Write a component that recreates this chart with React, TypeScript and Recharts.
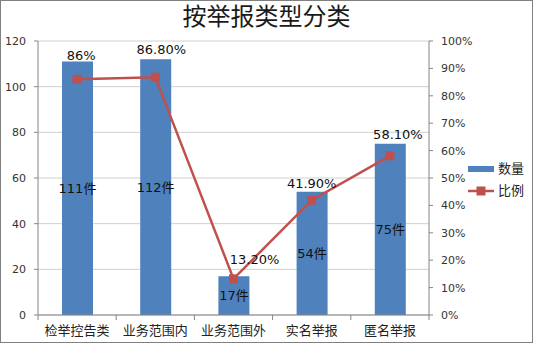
import React from "react";
import {
  Bar,
  CartesianGrid,
  ComposedChart,
  LabelList,
  Line,
  XAxis,
  YAxis,
} from "recharts";

const categories = ["检举控告类", "业务范围内", "业务范围外", "实名举报", "匿名举报"];
const counts = [111, 112, 17, 54, 75];
const ratios = [0.86, 0.868, 0.132, 0.419, 0.581];
const ratioLabels = ["86%", "86.80%", "13.20%", "41.90%", "58.10%"];
const countTicks = [0, 20, 40, 60, 80, 100, 120];
const ratioTicks = [0, 0.1, 0.2, 0.3, 0.4, 0.5, 0.6, 0.7, 0.8, 0.9, 1];

const data = categories.map((name, i) => ({
  name,
  count: counts[i],
  ratio: ratios[i],
  ratioLabel: ratioLabels[i],
}));

const W = 533;
const H = 343;
const LEFT_W = 38;
const RIGHT_W = 40;
const MARGIN = { top: 41, right: 64, bottom: 0, left: 0 };
const HALF_BAND = (W - LEFT_W - RIGHT_W - MARGIN.right) / categories.length / 2;

const BLUE = "#4F81BD";
const RED = "#C0504D";
const AXIS = "#868686";
const FONT = "'DejaVu Sans', 'Noto Sans CJK SC', sans-serif";

// hand-placed label nudges, like in the original sheet
const pctOffset: [number, number][] = [
  [4, -24],
  [6, -28],
  [21, -19],
  [0, -17],
  [8, -21],
];

function XTick({ x, y, payload, index }: any) {
  const last = index === categories.length - 1;
  return (
    <g>
      <line x1={x - HALF_BAND} x2={x - HALF_BAND} y1={y} y2={y + 5} stroke={AXIS} />
      {last && <line x1={x + HALF_BAND} x2={x + HALF_BAND} y1={y} y2={y + 5} stroke={AXIS} />}
      <text x={x} y={y + 15} dominantBaseline="central" textAnchor="middle" fontSize={13} fill="#222">
        {payload.value}
      </text>
    </g>
  );
}

function PctLabel({ x, y, value }: any) {
  const i = ratioLabels.indexOf(value);
  const [dx, dy] = pctOffset[i] ?? [0, -15];
  return (
    <text x={x + dx} y={y + dy} textAnchor="middle" dominantBaseline="central" fontSize={13} fill="#111">
      {value}
    </text>
  );
}

function Square({ cx, cy, index }: any) {
  return <rect key={index} x={cx - 4.5} y={cy - 4.5} width={9} height={9} fill={RED} />;
}

function LegendBox() {
  return (
    <div
      style={{
        position: "absolute",
        left: 468,
        top: 158,
        fontSize: 13,
        color: "#222",
        lineHeight: "22px",
      }}
    >
      <div style={{ display: "flex", alignItems: "center" }}>
        <span style={{ width: 26, height: 6, background: BLUE, marginRight: 4 }} />
        数量
      </div>
      <div style={{ display: "flex", alignItems: "center" }}>
        <svg width={26} height={10} style={{ marginRight: 4 }}>
          <line x1={0} x2={26} y1={5} y2={5} stroke={RED} strokeWidth={2.5} />
          <rect x={8.5} y={0.5} width={9} height={9} fill={RED} />
        </svg>
        比例
      </div>
    </div>
  );
}

export default function App() {
  return (
    <div style={{ position: "absolute", left: 0, top: 0, width: W, height: H, background: "#fff", fontFamily: FONT }}>
      <div
        style={{
          position: "absolute",
          top: 2,
          width: W,
          textAlign: "center",
          fontSize: 24,
          lineHeight: "30px",
          color: "#1a1a1a",
        }}
      >
        按举报类型分类
      </div>
      <ComposedChart width={W} height={H} data={data} margin={MARGIN} style={{ fontFamily: FONT }}>
        <CartesianGrid vertical={false} stroke="#d0d0d0" yAxisId="count" />
        <XAxis
          dataKey="name"
          height={28}
          tickSize={0}
          tickMargin={0}
          tickLine={false}
          axisLine={{ stroke: AXIS }}
          tick={<XTick />}
          interval={0}
        />
        <YAxis
          yAxisId="count"
          width={LEFT_W}
          domain={[0, 120]}
          ticks={countTicks}
          tickSize={4}
          tickMargin={8}
          axisLine={{ stroke: AXIS }}
          tickLine={{ stroke: AXIS }}
          tick={{ fontSize: 11, fill: "#333" }}
        />
        <YAxis
          yAxisId="ratio"
          orientation="right"
          width={RIGHT_W}
          domain={[0, 1]}
          ticks={ratioTicks}
          tickSize={4}
          tickMargin={8}
          axisLine={{ stroke: AXIS }}
          tickLine={{ stroke: AXIS }}
          tick={{ fontSize: 11, fill: "#333", textAnchor: "start" }}
          tickFormatter={(v: number) => `${Math.round(v * 100)}%`}
        />
        <Bar yAxisId="count" dataKey="count" name="数量" fill={BLUE} barSize={31} isAnimationActive={false}>
          <LabelList
            dataKey="count"
            position="center"
            formatter={(v: any) => `${v}件`}
            style={{ fontSize: 13, fill: "#111" }}
          />
        </Bar>
        <Line
          yAxisId="ratio"
          dataKey="ratio"
          name="比例"
          stroke={RED}
          strokeWidth={2.5}
          dot={<Square />}
          activeDot={false}
          isAnimationActive={false}
        >
          <LabelList dataKey="ratioLabel" content={<PctLabel />} />
        </Line>
      </ComposedChart>
      <LegendBox />
      <div
        style={{
          position: "absolute",
          left: 0,
          top: 0,
          width: W,
          height: H,
          boxSizing: "border-box",
          border: "1px solid #808080",
          pointerEvents: "none",
        }}
      />
    </div>
  );
}
